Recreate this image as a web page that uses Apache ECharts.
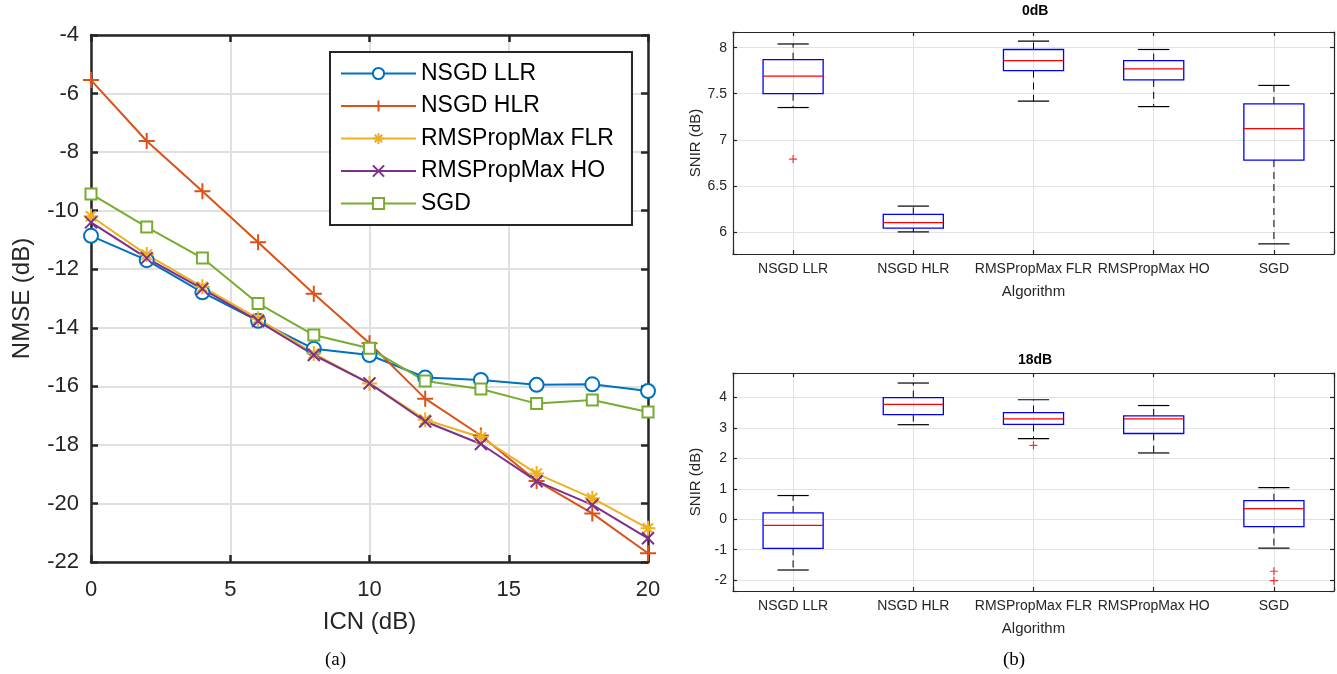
<!DOCTYPE html>
<html>
<head>
<meta charset="utf-8">
<script src="https://cdn.jsdelivr.net/npm/echarts@6/dist/echarts.min.js"></script>
<style>
html, body { margin: 0; padding: 0; background: #fff; }
#main { width: 1337px; height: 674px; }
</style>
</head>
<body>
<div id="main"></div>
<script>
// (a) NMSE 随 ICN 变化
const icn = [0, 2, 4, 6, 8, 10, 12, 14, 16, 18, 20];
const nsgdLLR = [-10.86, -11.69, -12.79, -13.76, -14.72, -14.93, -15.70, -15.78, -15.95, -15.93, -16.16];
const nsgdHLR = [-5.54, -7.62, -9.34, -11.08, -12.84, -14.53, -16.42, -17.68, -19.23, -20.34, -21.70];
const rmsFLR = [-10.19, -11.50, -12.60, -13.69, -14.88, -15.90, -17.14, -17.74, -18.98, -19.82, -20.85];
const rmsHO = [-10.40, -11.62, -12.67, -13.77, -14.93, -15.90, -17.20, -17.97, -19.24, -20.05, -21.19];
const sgd = [-9.43, -10.56, -11.62, -13.17, -14.25, -14.70, -15.82, -16.09, -16.59, -16.47, -16.88];

// (b) SNIR 箱线图: [下须, Q1, 中位数, Q3, 上须]
const algorithms = ['NSGD LLR', 'NSGD HLR', 'RMSPropMax FLR', 'RMSPropMax HO', 'SGD'];
const box0dB = [
    [7.35, 7.50, 7.69, 7.87, 8.04],
    [6.00, 6.04, 6.10, 6.19, 6.28],
    [7.42, 7.75, 7.86, 7.98, 8.07],
    [7.36, 7.65, 7.77, 7.86, 7.98],
    [5.87, 6.78, 7.12, 7.39, 7.59]
];
const outliers0dB = [[1, 6.79]];
const box18dB = [
    [-1.67, -0.96, -0.20, 0.21, 0.78],
    [3.11, 3.44, 3.78, 4.00, 4.48],
    [2.65, 3.12, 3.30, 3.51, 3.93],
    [2.18, 2.82, 3.30, 3.40, 3.74],
    [-0.95, -0.24, 0.35, 0.61, 1.04]
];
const outliers18dB = [[3, 2.43], [5, -1.71], [5, -2.02]];

const PLUS = 'path://M5,0L5,10M0,5L10,5';
const STAR = 'path://M5,0L5,10M0,5L10,5M1.6,1.6L8.4,8.4M1.6,8.4L8.4,1.6';
const CROSS = 'path://M0,0L10,10M0,10L10,0';
const AXIS_COLOR = '#262626';
const FONT = 'Liberation Sans';

// 折线系列
function lineSeries(name, values, color, symbol, size) {
    return {
        name: name,
        type: 'line',
        xAxisIndex: 0,
        yAxisIndex: 0,
        data: icn.map((x, i) => [x, values[i]]),
        symbol: symbol,
        symbolSize: size,
        showAllSymbol: true,
        lineStyle: { color: color, width: 2 },
        itemStyle: { color: color, borderColor: color, borderWidth: 2 },
        emphasis: { disabled: true }
    };
}

// 箱线图绘制
function renderBox(params, api) {
    const x = api.value(0);
    const lo = api.coord([x, api.value(1)]);
    const q1 = api.coord([x, api.value(2)]);
    const med = api.coord([x, api.value(3)]);
    const q3 = api.coord([x, api.value(4)]);
    const hi = api.coord([x, api.value(5)]);
    const unit = api.size([1, 0])[0];
    const bw = unit * 0.25;
    const cw = unit * 0.13;
    const cx = lo[0];
    const dash = { stroke: '#000', lineWidth: 1, lineDash: [7, 5], fill: null };
    const solid = { stroke: '#000', lineWidth: 1.2, fill: null };
    return {
        type: 'group',
        children: [
            { type: 'line', shape: { x1: cx, y1: q1[1], x2: cx, y2: lo[1] }, style: dash },
            { type: 'line', shape: { x1: cx, y1: q3[1], x2: cx, y2: hi[1] }, style: dash },
            { type: 'line', shape: { x1: cx - cw, y1: lo[1], x2: cx + cw, y2: lo[1] }, style: solid },
            { type: 'line', shape: { x1: cx - cw, y1: hi[1], x2: cx + cw, y2: hi[1] }, style: solid },
            { type: 'rect', shape: { x: cx - bw, y: q3[1], width: bw * 2, height: q1[1] - q3[1] },
              style: { stroke: '#0000ff', lineWidth: 1.3, fill: null } },
            { type: 'line', shape: { x1: cx - bw, y1: med[1], x2: cx + bw, y2: med[1] },
              style: { stroke: '#ff0000', lineWidth: 1.3 } }
        ]
    };
}

// 坐标轴
function valueAxis(gridIndex, position, min, max, opts) {
    const big = gridIndex === 0;
    return Object.assign({
        type: 'value',
        gridIndex: gridIndex,
        position: position,
        min: min,
        max: max,
        axisLine: { show: true, onZero: false, lineStyle: { color: AXIS_COLOR, width: big ? 2.5 : 1.2 } },
        axisTick: { show: true, inside: true, length: big ? 7 : 4, lineStyle: { color: AXIS_COLOR, width: big ? 2.5 : 1.2 } },
        axisLabel: { show: false },
        splitLine: { show: false }
    }, opts);
}

const chart = echarts.init(document.getElementById('main'));

const bigLabel = { show: true, fontFamily: FONT, fontSize: 22, color: AXIS_COLOR };
const bigName = { fontFamily: FONT, fontSize: 24, color: AXIS_COLOR };
const smallLabel = { show: true, fontFamily: FONT, fontSize: 14, color: AXIS_COLOR, margin: 8 };
const smallName = { fontFamily: FONT, fontSize: 15, color: AXIS_COLOR };
const gridLine = { show: true, lineStyle: { color: '#e2e2e2', width: 1 } };

function catFormatter(v) {
    return Number.isInteger(v) && v >= 1 && v <= 5 ? algorithms[v - 1] : '';
}

const option = {
    animation: false,
    backgroundColor: '#fff',
    grid: [
        { left: 91, top: 35, width: 557, height: 527 },
        { left: 733, top: 32, width: 603, height: 222 },
        { left: 733, top: 373, width: 603, height: 218 }
    ],
    xAxis: [
        valueAxis(0, 'bottom', 0, 20, {
            interval: 5,
            axisLabel: Object.assign({}, bigLabel, { margin: 17 }),
            splitLine: { show: true, lineStyle: { color: '#e0e0e0', width: 2 } },
            name: 'ICN (dB)', nameLocation: 'middle', nameGap: 48, nameTextStyle: bigName
        }),
        valueAxis(0, 'top', 0, 20, { interval: 5 }),
        valueAxis(1, 'bottom', 0.5, 5.5, {
            axisLabel: Object.assign({}, smallLabel, { formatter: catFormatter }),
            splitLine: gridLine,
            name: 'Algorithm', nameLocation: 'middle', nameGap: 30, nameTextStyle: smallName
        }),
        valueAxis(1, 'top', 0.5, 5.5, {}),
        valueAxis(2, 'bottom', 0.5, 5.5, {
            axisLabel: Object.assign({}, smallLabel, { formatter: catFormatter }),
            splitLine: gridLine,
            name: 'Algorithm', nameLocation: 'middle', nameGap: 30, nameTextStyle: smallName
        }),
        valueAxis(2, 'top', 0.5, 5.5, {})
    ],
    yAxis: [
        valueAxis(0, 'left', -22, -4, {
            interval: 2,
            axisLabel: Object.assign({}, bigLabel, { margin: 12 }),
            splitLine: { show: true, lineStyle: { color: '#e0e0e0', width: 2 } },
            name: 'NMSE (dB)', nameLocation: 'middle', nameGap: 57, nameTextStyle: bigName
        }),
        valueAxis(0, 'right', -22, -4, { interval: 2 }),
        valueAxis(1, 'left', 5.76, 8.17, {
            axisLabel: Object.assign({}, smallLabel, {
                margin: 6,
                formatter: v => Math.abs(v * 2 - Math.round(v * 2)) < 1e-6 ? String(v) : ''
            }),
            splitLine: gridLine,
            name: 'SNIR (dB)', nameLocation: 'middle', nameGap: 30, nameTextStyle: smallName
        }),
        valueAxis(1, 'right', 5.76, 8.17, {}),
        valueAxis(2, 'left', -2.36, 4.81, {
            axisLabel: Object.assign({}, smallLabel, {
                margin: 6,
                formatter: v => Math.abs(v - Math.round(v)) < 1e-6 ? String(v) : ''
            }),
            splitLine: gridLine,
            name: 'SNIR (dB)', nameLocation: 'middle', nameGap: 30, nameTextStyle: smallName
        }),
        valueAxis(2, 'right', -2.36, 4.81, {})
    ],
    legend: {
        orient: 'vertical',
        left: 330,
        top: 52,
        padding: [10, 18, 10, 10],
        itemWidth: 75,
        itemHeight: 14,
        itemGap: 9.5,
        borderColor: AXIS_COLOR,
        borderWidth: 2,
        backgroundColor: '#fff',
        textStyle: { fontFamily: FONT, fontSize: 23, color: '#000' },
        data: ['NSGD LLR', 'NSGD HLR', 'RMSPropMax FLR', 'RMSPropMax HO', 'SGD']
    },
    graphic: [
        { type: 'text', left: 1035 - 13, top: 4, style: { text: '0dB', font: 'bold 14px "Liberation Sans"', fill: '#000' } },
        { type: 'text', left: 1035 - 17, top: 353, style: { text: '18dB', font: 'bold 14px "Liberation Sans"', fill: '#000' } },
        { type: 'text', left: 325, top: 651, style: { text: '(a)', font: '19px "Liberation Serif"', fill: '#000' } },
        { type: 'text', left: 1003, top: 651, style: { text: '(b)', font: '19px "Liberation Serif"', fill: '#000' } }
    ],
    series: [
        lineSeries('NSGD LLR', nsgdLLR, '#0072BD', 'emptyCircle', 14),
        lineSeries('NSGD HLR', nsgdHLR, '#D95319', PLUS, 16),
        lineSeries('RMSPropMax FLR', rmsFLR, '#EDB120', STAR, 15),
        lineSeries('RMSPropMax HO', rmsHO, '#7E2F8E', CROSS, 12),
        lineSeries('SGD', sgd, '#77AC30', 'emptyRect', 11),
        {
            type: 'custom',
            xAxisIndex: 2, yAxisIndex: 2,
            renderItem: renderBox,
            encode: { x: 0, y: [1, 2, 3, 4, 5] },
            data: box0dB.map((b, i) => [i + 1].concat(b))
        },
        {
            type: 'custom',
            xAxisIndex: 4, yAxisIndex: 4,
            renderItem: renderBox,
            encode: { x: 0, y: [1, 2, 3, 4, 5] },
            data: box18dB.map((b, i) => [i + 1].concat(b))
        },
        {
            type: 'scatter',
            xAxisIndex: 2, yAxisIndex: 2,
            symbol: PLUS, symbolSize: 8,
            itemStyle: { color: '#ff0000', borderColor: '#ff0000', borderWidth: 1.2 },
            data: outliers0dB
        },
        {
            type: 'scatter',
            xAxisIndex: 4, yAxisIndex: 4,
            symbol: PLUS, symbolSize: 8,
            itemStyle: { color: '#ff0000', borderColor: '#ff0000', borderWidth: 1.2 },
            data: outliers18dB
        }
    ]
};

chart.setOption(option);
</script>
</body>
</html>
